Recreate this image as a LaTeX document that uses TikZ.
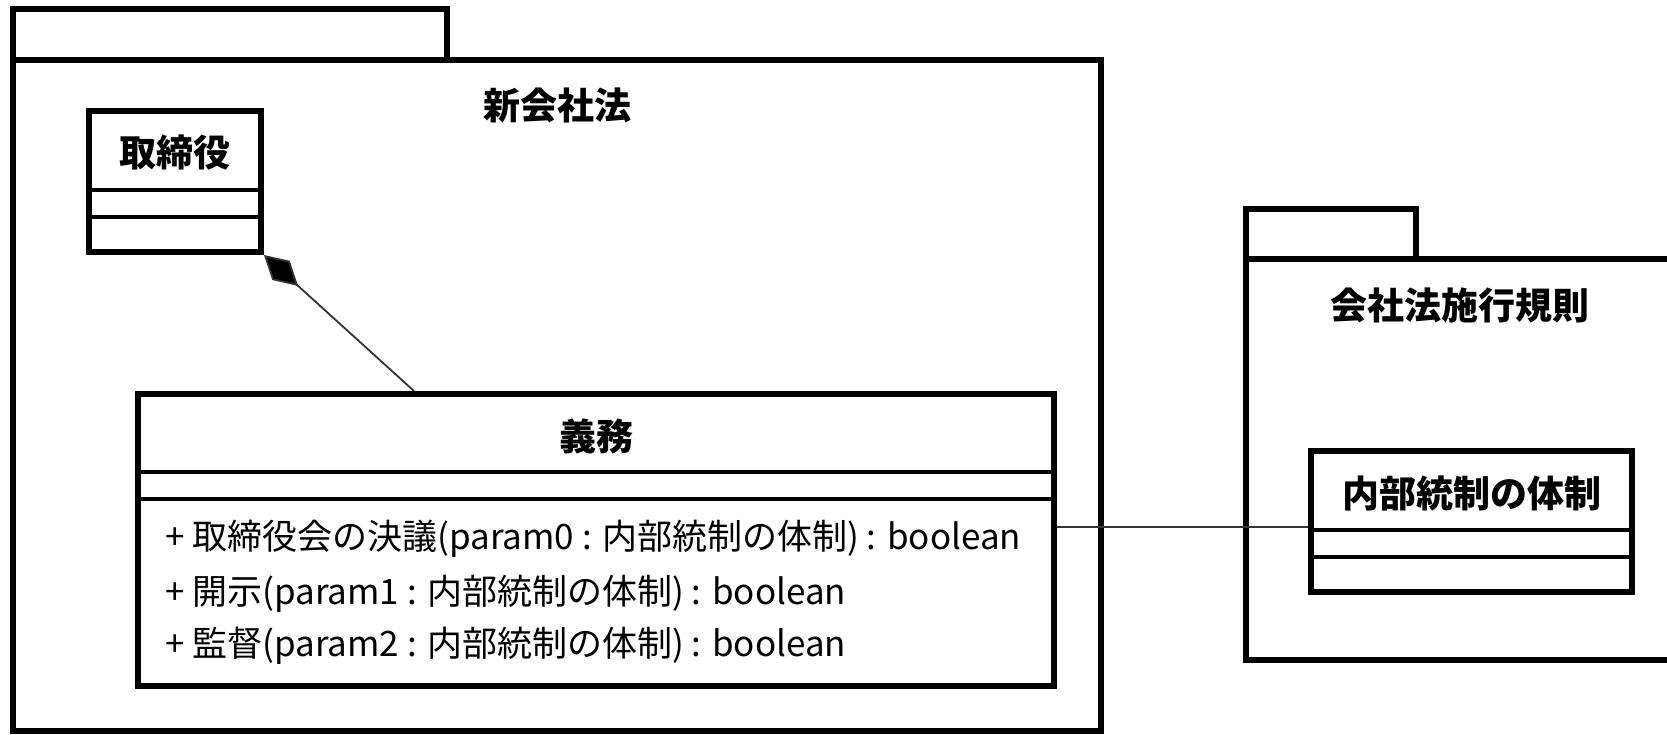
\documentclass[tikz,border=0pt]{standalone}
\usepackage{fontspec}
\setmainfont{Noto Sans CJK JP}
\usetikzlibrary{arrows.meta}
\tikzset{
  pkgline/.style={line width=6pt, line join=miter},
  classbox/.style={draw, line width=6pt, rectangle, inner sep=0pt},
  divider/.style={line width=4pt},
  ttl/.style={font=\fontsize{37}{40}\selectfont\bfseries, inner sep=0pt},
  op/.style={font=\fontsize{35}{40}\selectfont, inner sep=0pt, anchor=west},
  conn/.style={line width=1.8pt, draw=black!80}
}
\begin{document}
\begin{tikzpicture}[x=1pt,y=-1pt]
\clip (0,0) rectangle (1667,735);
\fill[white] (0,0) rectangle (1667,735);
% package 1
\draw[pkgline] (13,60) rectangle (446.6,9.5);
\draw[pkgline] (13,60) rectangle (1100.6,731);
\node[ttl] (p1title) at (557,105) {新会社法};
% package 2
\draw[pkgline] (1246,259.5) rectangle (1416,209);
\draw[pkgline] (1246,259.5) rectangle (1700,659.5);
\node[ttl] (p2title) at (1460,305) {会社法施行規則};
% class 取締役
\node[classbox, minimum width=172pt, minimum height=141.3pt] (tori) at (175,181.35) {};
\node[ttl] (toriname) at (175,153) {取締役};
\draw[divider] (tori.west |- 0,189.7) -- (tori.east |- 0,189.7);
\draw[divider] (tori.west |- 0,216.7) -- (tori.east |- 0,216.7);
% class 義務
\node[classbox, minimum width=916pt, minimum height=292pt] (gimu) at (596,540) {};
\node[ttl] (gimuname) at (596,436) {義務};
\draw[divider] (gimu.west |- 0,471.7) -- (gimu.east |- 0,471.7);
\draw[divider] (gimu.west |- 0,499.3) -- (gimu.east |- 0,499.3);
\node[op] (op1) at (165,539) {+ 取締役会の決議(param0 : 内部統制の体制) : boolean};
\node[op] (op2) at (165,594) {+ 開示(param1 : 内部統制の体制) : boolean};
\node[op] (op3) at (165,646) {+ 監督(param2 : 内部統制の体制) : boolean};
% class 内部統制の体制
\node[classbox, minimum width=321pt, minimum height=141pt] (naibu) at (1471.5,521.5) {};
\node[ttl] (naibuname) at (1472,493) {内部統制の体制};
\draw[divider] (naibu.west |- 0,530) -- (naibu.east |- 0,530);
\draw[divider] (naibu.west |- 0,556.7) -- (naibu.east |- 0,556.7);
% connectors
\draw[conn, {Diamond[length=46pt,width=26pt,fill=black]}-] (tori.south east) -- ([xshift=279pt]gimu.north west);
\draw[conn] (gimu.east |- 0,527) -- (naibu.west |- 0,527);
\end{tikzpicture}
\end{document}
